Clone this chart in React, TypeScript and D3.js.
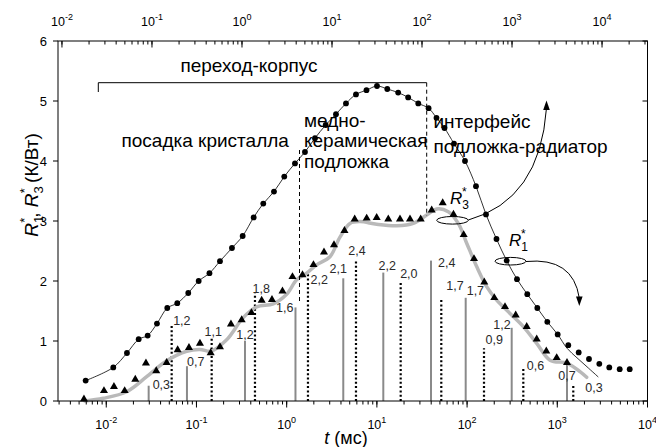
import React from 'react';
import * as d3 from 'd3';

// ---- Data ----
// R1* (circles), time in ms
const r1T = [0.00591, 0.01196, 0.01696, 0.02287, 0.02877, 0.03648, 0.04746, 0.06124, 0.0811, 0.1058, 0.1393, 0.1822, 0.2475, 0.3252, 0.4305, 0.5503, 0.7233, 0.9406, 1.236, 1.595, 2.059, 2.706, 3.521, 4.543, 5.866, 7.668, 10.03, 13.04, 17.22, 22.23, 28.77, 37.43, 45.8, 56.15, 71.58, 94.78, 125.5, 162.0, 211.8, 274.8, 357.5, 465.0, 600.4, 774.9, 1010, 1324, 1727, 2246, 2922, 3771, 4918, 6350];
const r1R = [0.34, 0.56, 0.80, 1.03, 1.09, 1.29, 1.55, 1.63, 1.80, 2.00, 2.13, 2.33, 2.55, 2.75, 3.06, 3.29, 3.49, 3.74, 3.96, 4.15, 4.38, 4.60, 4.78, 4.96, 5.11, 5.18, 5.25, 5.20, 5.14, 5.06, 4.96, 4.88, 4.72, 4.55, 4.29, 4.00, 3.58, 3.11, 2.70, 2.34, 2.03, 1.78, 1.55, 1.32, 1.11, 0.93, 0.81, 0.70, 0.62, 0.56, 0.53, 0.53];
// tail of the thin R1* fit line (after it leaves the points)
const r1TailT = [1281, 1653, 2135, 2848];
const r1TailR = [0.88, 0.72, 0.57, 0.40];

// R3* (triangles)
const r3T = [0.00566, 0.00943, 0.01217, 0.016, 0.02097, 0.02754, 0.03583, 0.04673, 0.06188, 0.08257, 0.1093, 0.1437, 0.1822, 0.2412, 0.317, 0.4071, 0.5282, 0.6871, 0.8982, 1.16, 1.497, 1.982, 2.592, 3.345, 4.373, 5.675, 7.707, 9.949, 13.38, 18.04, 23.28, 30.59, 40.51, 53.63, 70.66, 91.68, 119.3, 155.1, 200.3, 263.1, 345.8, 457.9, 591.2, 755.1, 984.7, 1281];
const r3R = [0.03, 0.17, 0.24, 0.17, 0.36, 0.63, 0.50, 0.64, 0.85, 0.89, 0.96, 0.80, 0.90, 1.28, 1.35, 1.47, 1.675, 1.69, 1.83, 2.07, 2.10, 2.27, 2.48, 2.60, 2.84, 3.03, 3.045, 3.055, 3.03, 3.03, 3.03, 3.03, 3.18, 3.30, 3.11, 2.77, 2.37, 1.98, 1.72, 1.57, 1.43, 1.24, 1.03, 0.83, 0.72, 0.64];
// smooth grey R3* curve
const r3FitT = [0.005806, 0.009262, 0.01683, 0.02804, 0.04673, 0.07785, 0.1093, 0.1448, 0.2162, 0.3302, 0.4648, 0.7102, 1.0, 1.291, 1.666, 2.151, 3.02, 3.898, 5.032, 6.495, 9.949, 16.58, 25.33, 35.66, 46.03, 61.88, 79.88, 99.0, 127.8, 164.9, 212.9, 298.9, 420.0, 591.2, 830.3, 1271, 1785, 2118];
const r3FitR = [0.0, 0.045, 0.155, 0.405, 0.67, 0.83, 0.86, 0.83, 1.02, 1.39, 1.57, 1.62, 1.78, 2.02, 2.13, 2.27, 2.405, 2.73, 2.96, 2.99, 2.945, 2.92, 2.96, 3.10, 3.20, 3.155, 2.96, 2.63, 2.24, 1.905, 1.68, 1.46, 1.24, 0.96, 0.68, 0.63, 0.49, 0.395];

// spectrum lines: grey solid
const greyBarT = [0.02952, 0.07845, 0.3449, 1.252, 4.241, 11.78, 39.8, 96.5, 312.2, 1281];
const greyBarH = [0.255, 0.58, 1.0, 1.56, 2.045, 2.14, 2.34, 1.72, 1.22, 0.64];
const greyBarLabel = ['0,3', '0,7', '1,2', '1,6', '2,1', '2,2', '2,4', '1,7', '1,2', '0,7'];
// spectrum lines: black dotted
const dotBarT = [0.0531, 0.1474, 0.4452, 1.722, 5.866, 18.36, 51.76, 154.0, 420.0, 1504];
const dotBarH = [1.25, 1.045, 1.795, 2.13, 2.35, 1.99, 1.71, 0.88, 0.545, 0.27];
const dotBarLabel = ['1,2', '1,1', '1,8', '2,2', '2,4', '2,0', '1,7', '0,9', '0,6', '0,3'];

const decadeExps = [-2, -1, 0, 1, 2, 3, 4];
const yTicks = [0, 1, 2, 3, 4, 5, 6];

// ---- label layout (offsets from bar top, px) ----
const greyLabelPos = [
  { dx: 4, dy: 3, a: 'start' }, { dx: 0, dy: 0, a: 'start' }, { dx: 0, dy: -2, a: 'middle' },
  { dx: -2, dy: 5, a: 'end' }, { dx: -5, dy: -5, a: 'middle' }, { dx: 4, dy: -3, a: 'middle' },
  { dx: 7, dy: 6, a: 'start' }, { dx: 1, dy: -3, a: 'start' }, { dx: -1, dy: 1, a: 'end' },
  { dx: 0, dy: 17, a: 'middle' },
];
const dotLabelPos = [
  { dx: 1.5, dy: -1, a: 'start' }, { dx: 1.5, dy: -2, a: 'middle' }, { dx: -2.5, dy: 0, a: 'start' },
  { dx: 2.5, dy: 11, a: 'start' }, { dx: 1, dy: -5, a: 'middle' }, { dx: -0.5, dy: -4, a: 'start' },
  { dx: 5, dy: -8, a: 'start' }, { dx: 1.5, dy: -4, a: 'start' }, { dx: 3.5, dy: 2, a: 'start' },
  { dx: 12, dy: 7, a: 'start' },
];

const W = 656;
const H = 447;
const L = 58, R = 647.5, T = 41, B = 401;
const FONT = "Arial, 'Liberation Sans', sans-serif";

const x = d3.scaleLog().domain([Math.pow(10, -2.535), 1e4]).range([L, R]);
const xTop = d3.scaleLog().domain([Math.pow(10, -2.044), Math.pow(10, 4.505)]).range([L, R]);
const y = d3.scaleLinear().domain([0, 6]).range([B, T]);

function minorTicks(scale: d3.ScaleLogarithmic<number, number>) {
  const [d0, d1] = scale.domain();
  const out: number[] = [];
  for (let k = -4; k <= 5; k++) {
    for (let m = 1; m <= 9; m++) {
      const v = m * Math.pow(10, k);
      if (v >= d0 && v <= d1) out.push(v);
    }
  }
  return out;
}

export default function App() {
  const lineCurve = d3.line<[number, number]>().x(d => x(d[0])).y(d => y(d[1])).curve(d3.curveCatmullRom.alpha(0.5));
  const r1Fit: [number, number][] = r1T.slice(0, 45).map((t, i) => [t, r1R[i]] as [number, number])
    .concat(r1TailT.map((t, i) => [t, r1TailR[i]] as [number, number]));
  const r3Fit: [number, number][] = r3FitT.map((t, i) => [t, r3FitR[i]]);
  const tri = d3.symbol(d3.symbolTriangle, 28)() as string;

  const botMinor = minorTicks(x);
  const topMinor = minorTicks(xTop);

  return (
    <svg width={W} height={H} style={{ position: 'absolute', left: 0, top: 0, background: '#fff' }} fontFamily={FONT}>
      <rect x={0} y={0} width={W} height={H} fill="#fff" />
      {/* grey spectrum lines */}
      {greyBarT.map((t, i) => (
        <line key={'gb' + i} x1={x(t)} x2={x(t)} y1={y(0)} y2={y(greyBarH[i])} stroke="#8a8a8a" strokeWidth={2} />
      ))}
      {/* dotted spectrum lines */}
      {dotBarT.map((t, i) => (
        <line key={'db' + i} x1={x(t)} x2={x(t)} y1={y(0)} y2={y(dotBarH[i])} stroke="#000" strokeWidth={2.2} strokeDasharray="2,2.3" />
      ))}
      {/* grey R3 curve */}
      <path d={lineCurve(r3Fit) as string} fill="none" stroke="#b9b9b9" strokeWidth={3.5} strokeLinecap="round" />
      {/* thin R1 line */}
      <path d={lineCurve(r1Fit) as string} fill="none" stroke="#000" strokeWidth={0.8} />
      {/* markers */}
      {r1T.map((t, i) => (
        <circle key={'c' + i} cx={x(t)} cy={y(r1R[i])} r={2.9} fill="#000" />
      ))}
      {r3T.map((t, i) => (
        <path key={'t' + i} d={tri} transform={`translate(${x(t)},${y(r3R[i])})`} fill="#000" />
      ))}
      {/* bar labels */}
      {greyBarT.map((t, i) => (
        <text key={'gl' + i} x={x(t) + greyLabelPos[i].dx} y={y(greyBarH[i]) + greyLabelPos[i].dy}
          textAnchor={greyLabelPos[i].a as any} fontSize={12.5} fill="#2a2a2a">{greyBarLabel[i]}</text>
      ))}
      {dotBarT.map((t, i) => (
        <text key={'dl' + i} x={x(t) + dotLabelPos[i].dx} y={y(dotBarH[i]) + dotLabelPos[i].dy}
          textAnchor={dotLabelPos[i].a as any} fontSize={12.5} fill="#2a2a2a">{dotBarLabel[i]}</text>
      ))}

      {/* annotations */}
      <path d="M98.3,92 L98.3,82.7 L426.7,82.7" fill="none" stroke="#000" strokeWidth={1} />
      <line x1={426.7} x2={426.7} y1={82.7} y2={216} stroke="#000" strokeWidth={1} strokeDasharray="4,3" />
      <line x1={299.5} x2={299.5} y1={150} y2={302} stroke="#000" strokeWidth={1} strokeDasharray="4,3" />
      <g fontSize={19} fill="#000">
        <text x={249} y={72} textAnchor="middle">переход-корпус</text>
        <text x={121.5} y={147}>посадка кристалла</text>
        <text x={304} y={127}>медно-</text>
        <text x={304} y={147}>керамическая</text>
        <text x={304} y={168}>подложка</text>
        <text x={433.5} y={128}>интерфейс</text>
        <text x={433.5} y={152.5}>подложка-радиатор</text>
      </g>
      {/* R3 ellipse and arrow */}
      <ellipse cx={452.5} cy={220.3} rx={15.8} ry={3.8} fill="none" stroke="#000" strokeWidth={1} />
      <path d="M468.3,220 Q540,200 546.5,108" fill="none" stroke="#000" strokeWidth={1} />
      <path d="M546.5,100.5 L543.2,110 L549.8,110 Z" fill="#000" />
      {/* R1 ellipse and arrow */}
      <ellipse cx={510.5} cy={261.2} rx={15.5} ry={3.8} fill="none" stroke="#000" strokeWidth={1} />
      <path d="M526,261.5 Q573,257 579.3,298" fill="none" stroke="#000" strokeWidth={1} />
      <path d="M579.3,306 L576,296.5 L582.6,296.5 Z" fill="#000" />
      {/* R labels */}
      <text x={450} y={204} fontSize={17} fill="#000" style={{ whiteSpace: 'pre' }}>
        <tspan fontStyle="italic">R</tspan>
        <tspan fontSize={12} dy={5}>3</tspan>
        <tspan fontSize={12} dx={-7} dy={-13}>*</tspan>
      </text>
      <text x={509} y={245.5} fontSize={17} fill="#000" style={{ whiteSpace: 'pre' }}>
        <tspan fontStyle="italic">R</tspan>
        <tspan fontSize={12} dy={5}>1</tspan>
        <tspan fontSize={12} dx={-7} dy={-13}>*</tspan>
      </text>

      {/* frame */}
      <rect x={L} y={T} width={R - L} height={B - T} fill="none" stroke="#000" strokeWidth={1} />
      {/* bottom ticks */}
      {botMinor.map((v, i) => (
        <line key={'bm' + i} x1={x(v)} x2={x(v)} y1={B} y2={B + 3.5} stroke="#000" strokeWidth={1} />
      ))}
      {decadeExps.map(e => (
        <line key={'bM' + e} x1={x(Math.pow(10, e))} x2={x(Math.pow(10, e))} y1={B} y2={B + 6.5} stroke="#000" strokeWidth={1} />
      ))}
      {decadeExps.map(e => (
        <text key={'bl' + e} x={x(Math.pow(10, e))} y={429} textAnchor="middle" fontSize={12.5} fill="#000">
          <tspan>10</tspan><tspan fontSize={9} dy={-6}>{String(e)}</tspan>
        </text>
      ))}
      {/* top ticks (inside) */}
      {topMinor.map((v, i) => (
        <line key={'tm' + i} x1={xTop(v)} x2={xTop(v)} y1={T} y2={T + 3.5} stroke="#000" strokeWidth={1} />
      ))}
      {decadeExps.map(e => (
        <line key={'tM' + e} x1={xTop(Math.pow(10, e))} x2={xTop(Math.pow(10, e))} y1={T} y2={T + 6.5} stroke="#000" strokeWidth={1} />
      ))}
      {decadeExps.map(e => (
        <text key={'tl' + e} x={xTop(Math.pow(10, e))} y={26} textAnchor="middle" fontSize={12.5} fill="#000">
          <tspan>10</tspan><tspan fontSize={9} dy={-6}>{String(e)}</tspan>
        </text>
      ))}
      {/* y ticks */}
      {yTicks.map(v => (
        <g key={'y' + v}>
          <line x1={L - 5} x2={L} y1={y(v)} y2={y(v)} stroke="#000" strokeWidth={1} />
          <line x1={R - 5} x2={R} y1={y(v)} y2={y(v)} stroke="#000" strokeWidth={1} />
          <text x={47} y={y(v) + 4.5} textAnchor="end" fontSize={13} fill="#000">{v}</text>
        </g>
      ))}
      {/* axis titles */}
      <text x={346} y={444} textAnchor="middle" fontSize={18} fill="#000" style={{ whiteSpace: 'pre' }}>
        <tspan fontStyle="italic">t</tspan><tspan>{' (мс)'}</tspan>
      </text>
      <g transform="translate(38,185) rotate(-90)">
        <text x={0} y={0} textAnchor="middle" fontSize={19} fill="#000" style={{ whiteSpace: 'pre' }}>
          <tspan fontStyle="italic">R</tspan>
          <tspan fontSize={13} dy={5}>1</tspan>
          <tspan fontSize={13} dx={-7} dy={-14}>*</tspan>
          <tspan dy={9}>{', '}</tspan>
          <tspan fontStyle="italic">R</tspan>
          <tspan fontSize={13} dy={5}>3</tspan>
          <tspan fontSize={13} dx={-7} dy={-14}>*</tspan>
          <tspan dy={9}>{' (К/Вт)'}</tspan>
        </text>
      </g>
    </svg>
  );
}
